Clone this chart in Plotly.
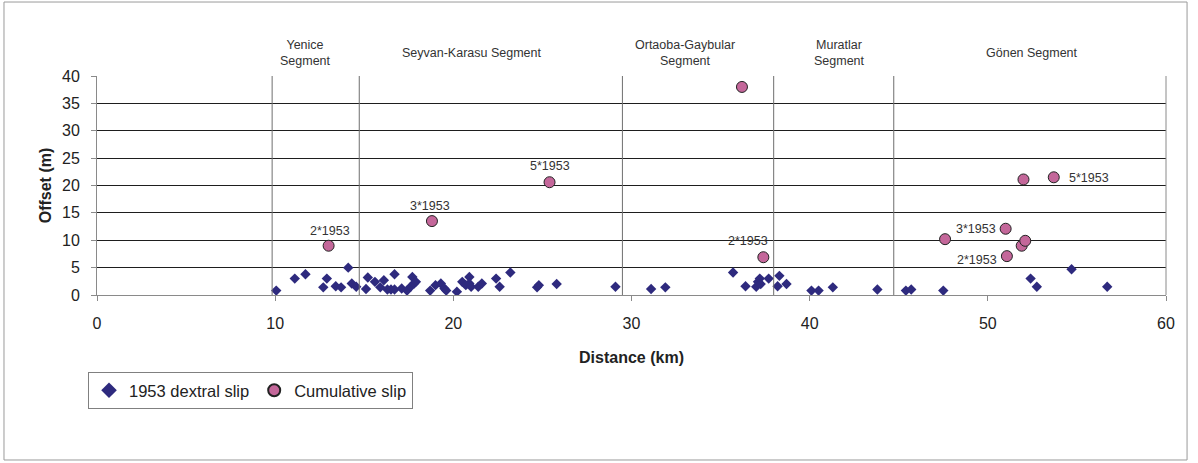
import plotly.graph_objects as go

# 1953 surface rupture: dextral offsets measured along strike
dextral_km = [10.06, 11.1, 11.7, 12.7, 12.9, 13.4, 13.7, 14.1, 14.3, 14.55,
              15.1, 15.2, 15.6, 15.9, 16.1, 16.3, 16.5, 16.7, 16.7, 17.1,
              17.4, 17.6, 17.7, 17.8, 17.9, 18.7, 19.0, 19.3, 19.5, 19.6,
              20.2, 20.5, 20.7, 20.9, 20.9, 21.0, 21.4, 21.6, 22.4, 22.6,
              23.2, 24.7, 24.8, 25.8, 29.1, 31.1, 31.9, 35.7, 36.4, 37.0,
              37.1, 37.2, 37.25, 37.7, 38.2, 38.3, 38.7, 40.1, 40.5, 41.3,
              43.8, 45.4, 45.7, 47.5, 52.4, 52.75, 54.7, 56.7]
dextral_m = [0.8, 3.0, 3.8, 1.4, 3.0, 1.6, 1.4, 5.0, 2.1, 1.5,
             1.1, 3.2, 2.4, 1.4, 2.7, 1.0, 1.0, 3.8, 1.0, 1.2,
             0.8, 1.5, 3.3, 2.1, 2.4, 0.8, 1.8, 2.1, 1.2, 0.8,
             0.6, 2.4, 1.8, 3.3, 2.1, 1.5, 1.5, 2.1, 3.0, 1.5,
             4.1, 1.4, 1.8, 2.0, 1.5, 1.1, 1.4, 4.1, 1.6, 1.5,
             2.4, 3.0, 2.0, 3.0, 1.6, 3.5, 2.0, 0.8, 0.8, 1.4,
             1.0, 0.8, 1.0, 0.8, 3.0, 1.5, 4.7, 1.5]

# Cumulative offsets of older landforms
cumulative_km = [13.0, 18.8, 25.4, 36.2, 37.4, 47.6, 51.0, 51.07, 51.9, 52.1, 52.0, 53.7]
cumulative_m = [9.0, 13.5, 20.6, 38.0, 6.9, 10.2, 12.1, 7.1, 9.0, 9.9, 21.1, 21.5]

# Labels attached to selected cumulative offsets: (index, text, anchor, dx, dy)
cumulative_labels = [
    (0, "2*1953", "center", 1, 15),
    (1, "3*1953", "center", -2, 15),
    (2, "5*1953", "center", 0, 16),
    (4, "2*1953", "right", 7, 16),
    (6, "3*1953", "right", -8, 0),
    (7, "2*1953", "right", -8, -4),
    (11, "5*1953", "left", 13, -1),
]

# Segment boundaries (km) and segment names
boundaries_km = [9.83, 14.72, 29.49, 37.98, 44.72]
segment_names = ["Yenice<br>Segment", "Seyvan-Karasu Segment", "Ortaoba-Gaybular<br>Segment",
                 "Muratlar<br>Segment", "Gönen Segment"]
segment_centers_km = [11.7, 21.0, 33.0, 41.7, 52.5]

x_ticks = [0, 10, 20, 30, 40, 50, 60]
y_ticks = [0, 5, 10, 15, 20, 25, 30, 35, 40]

FONT = "Arial, Liberation Sans, sans-serif"

fig = go.Figure()
fig.add_trace(go.Scatter(
    x=dextral_km, y=dextral_m, mode="markers", name="1953 dextral slip",
    marker=dict(symbol="diamond", size=8, color="#2E2A7E", line=dict(width=0)),
))
fig.add_trace(go.Scatter(
    x=cumulative_km, y=cumulative_m, mode="markers", name="Cumulative slip",
    marker=dict(symbol="circle", size=11, color="#C4679A", line=dict(width=1, color="#222222")),
))

shapes = []
for b in boundaries_km:
    shapes.append(dict(type="line", xref="x", yref="y", x0=b, x1=b, y0=0, y1=40,
                       line=dict(color="#6e6e6e", width=1), layer="above"))
# outer frame of the chart
shapes.append(dict(type="rect", xref="paper", yref="paper", x0=-0.0870, x1=1.0197,
                   y0=-0.7534, y1=1.3378, line=dict(color="#9a9a9a", width=1)))
# right edge of the plot area
shapes.append(dict(type="line", xref="paper", yref="paper", x0=1, x1=1, y0=0, y1=1,
                   line=dict(color="#8a8a8a", width=1)))

annotations = []
for name, cx in zip(segment_names, segment_centers_km):
    annotations.append(dict(x=cx, y=1.105, xref="x", yref="paper", text=name,
                            showarrow=False, xanchor="center", yanchor="middle",
                            font=dict(family=FONT, size=12.5, color="#333333")))
for idx, txt, anchor, dx, dy in cumulative_labels:
    annotations.append(dict(x=cumulative_km[idx], y=cumulative_m[idx], xref="x", yref="y",
                            text=txt, showarrow=False, xanchor=anchor, yanchor="middle",
                            xshift=dx, yshift=dy,
                            font=dict(family=FONT, size=12.5, color="#333333")))

fig.update_layout(
    width=1198, height=463,
    margin=dict(l=97, r=32, t=76, b=168),
    paper_bgcolor="white", plot_bgcolor="white",
    font=dict(family=FONT, size=16, color="#222222"),
    shapes=shapes, annotations=annotations,
    showlegend=True,
    legend=dict(orientation="h", x=-0.0084, y=-0.352, xanchor="left", yanchor="top",
                bordercolor="#808080", borderwidth=1,
                font=dict(family=FONT, size=16.5, color="#222222"),
                itemsizing="constant", tracegroupgap=0, itemwidth=30),
)
fig.update_xaxes(range=[0, 60], tickvals=x_ticks, showgrid=False, zeroline=False,
                 showline=True, linecolor="#8a8a8a", linewidth=1,
                 ticks="outside", ticklen=5, tickcolor="#8a8a8a", ticklabelstandoff=9,
                 tickfont=dict(family=FONT, size=16, color="#222222"),
                 title=dict(text="<b>Distance (km)</b>", font=dict(family=FONT, size=16, color="#222222"),
                            standoff=20))
fig.update_yaxes(range=[0, 40], tickvals=y_ticks, showgrid=True, gridcolor="#1e1e1e", gridwidth=1,
                 zeroline=False, showline=True, linecolor="#8a8a8a", linewidth=1,
                 ticks="outside", ticklen=5, tickcolor="#8a8a8a", ticklabelstandoff=8,
                 tickfont=dict(family=FONT, size=16, color="#222222"),
                 title=dict(text="<b>Offset (m)</b>", font=dict(family=FONT, size=16, color="#222222"),
                            standoff=6))

fig.write_html("out.html")
